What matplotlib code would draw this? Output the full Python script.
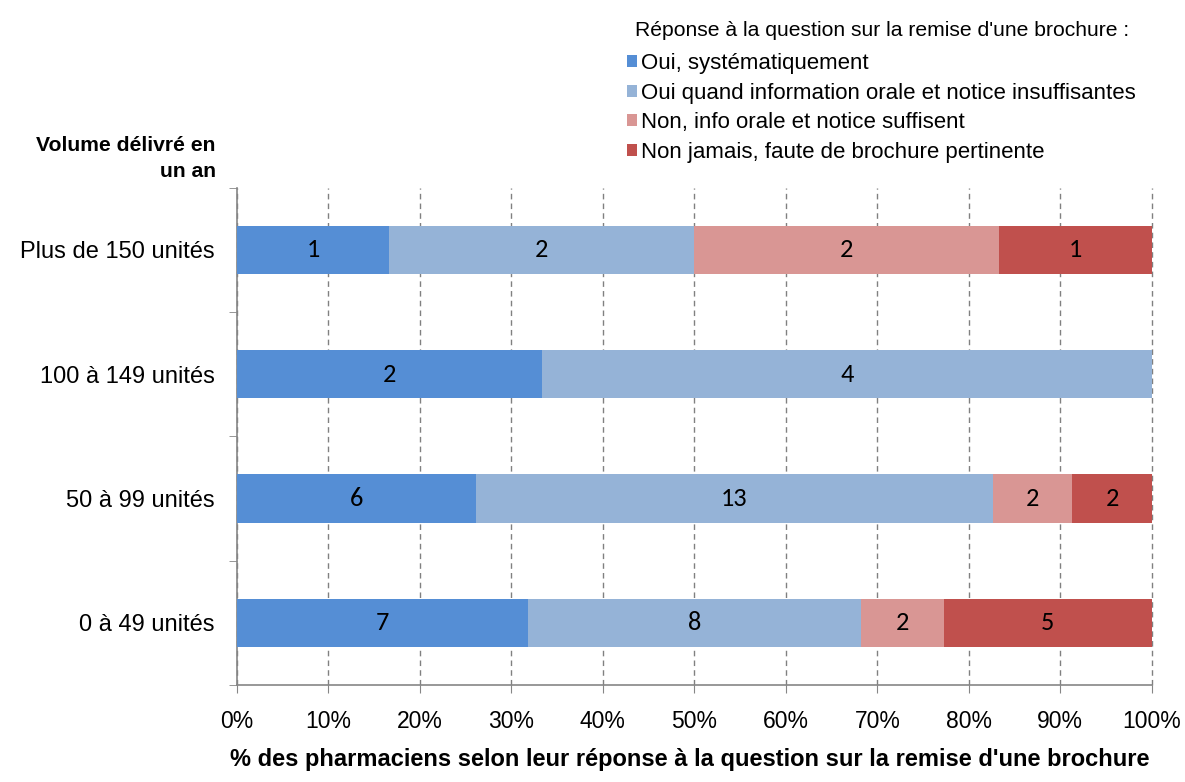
import numpy as np
import matplotlib
matplotlib.use('Agg')
import matplotlib.pyplot as plt
from matplotlib.patches import Patch

plt.rcParams['font.family'] = ['Liberation Sans', 'DejaVu Sans']

categories = ['Plus de 150 unités', '100 à 149 unités', '50 à 99 unités', '0 à 49 unités']
series_names = ['Oui, systématiquement',
                'Oui quand information orale et notice insuffisantes',
                'Non, info orale et notice suffisent',
                'Non jamais, faute de brochure pertinente']
counts = np.array([
    [1, 2, 2, 1],
    [2, 4, 0, 0],
    [6, 13, 2, 2],
    [7, 8, 2, 5],
])
colors = ['#558ED5', '#95B3D7', '#D99694', '#C0504D']

pct = counts / counts.sum(axis=1, keepdims=True) * 100

fig = plt.figure(figsize=(11.85, 7.82), dpi=100)
ax = fig.add_axes([0.2, 0.124, 0.772, 0.636])

y = np.arange(len(categories))[::-1]
left = np.zeros(len(categories))
for j in range(len(series_names)):
    ax.barh(y, pct[:, j], left=left, height=0.39, color=colors[j], zorder=3)
    for i in range(len(categories)):
        if counts[i, j] > 0:
            ax.text(left[i] + pct[i, j] / 2, y[i], str(counts[i, j]),
                    ha='center', va='center', fontsize=19, color='black',
                    family=['Carlito', 'Liberation Sans', 'DejaVu Sans'], zorder=4)
    left += pct[:, j]

ax.set_xlim(0, 100)
ax.set_ylim(-0.5, 3.5)
ax.set_xticks(np.arange(0, 101, 10))
ax.set_xticklabels([f'{v}%' for v in range(0, 101, 10)], fontsize=16.5)
ax.set_yticks(y)
ax.set_yticklabels(categories, fontsize=17)
ax.set_yticks(np.arange(-0.5, 3.6, 1), minor=True)
ax.tick_params(axis='y', which='major', length=0, pad=16)
ax.tick_params(axis='y', which='minor', length=6, color='#868686', direction='out')
ax.tick_params(axis='x', length=6, color='#868686', direction='out', pad=12)

ax.grid(axis='x', linestyle=(0, (4, 3)), color='#808080', linewidth=1, zorder=0)
for gl in ax.get_xgridlines():
    gl.set_clip_on(False)
for s in ['top', 'right']:
    ax.spines[s].set_visible(False)
for s in ['left', 'bottom']:
    ax.spines[s].set_color('#868686')
    ax.spines[s].set_linewidth(1.2)

fig.text(0.182, 0.797, 'Volume délivré en\nun an', ha='right', va='center',
         fontsize=15.2, fontweight='bold', linespacing=1.5)
fig.text(0.582, 0.029, "% des pharmaciens selon leur réponse à la question sur la remise d'une brochure",
         ha='center', va='center', fontsize=17, fontweight='bold')

fig.text(0.536, 0.961, "Réponse à la question sur la remise d'une brochure :",
         ha='left', va='center', fontsize=15.2)
handles = [Patch(facecolor=c) for c in colors]
fig.legend(handles, series_names, loc='upper left', bbox_to_anchor=(0.529, 0.932),
           frameon=False, fontsize=16, handlelength=0.45, handleheight=0.45,
           handletextpad=0.2, labelspacing=0.38, borderaxespad=0, borderpad=0)

fig.savefig('out.png', dpi=100)
